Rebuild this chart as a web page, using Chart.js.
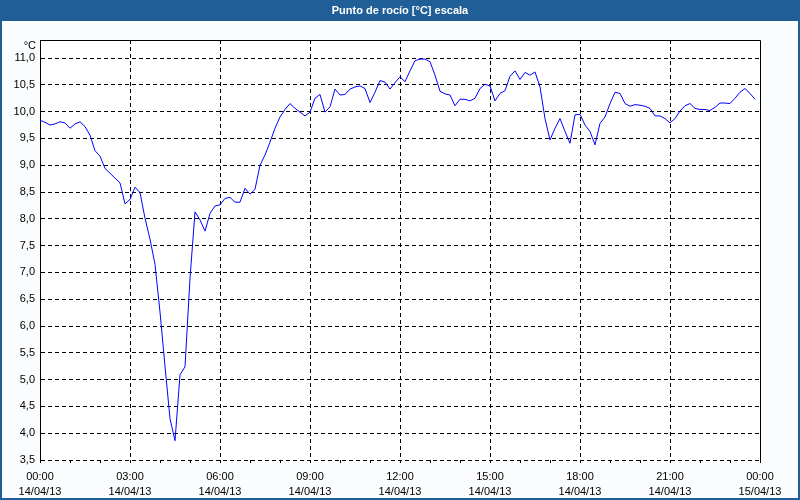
<!DOCTYPE html>
<html>
<head>
<meta charset="utf-8">
<script src="https://cdn.jsdelivr.net/npm/chart.js@4/dist/chart.umd.min.js"></script>
<style>
html,body{margin:0;padding:0;background:#fafcfe;}
canvas{display:block;}
</style>
</head>
<body>
<canvas id="c" width="800" height="500"></canvas>
<script>
// Title
const chartTitle = 'Punto de rocío [°C] escala';
const unitLabel = '°C';

// Categories: 10-minute samples, 14/04/13 00:00 to 15/04/13 00:00
const times = [
'00:00','00:10','00:20','00:30','00:40','00:50','01:00','01:10','01:20','01:30','01:40','01:50',
'02:00','02:10','02:20','02:30','02:40','02:50','03:00','03:10','03:20','03:30','03:40','03:50',
'04:00','04:10','04:20','04:30','04:40','04:50','05:00','05:10','05:20','05:30','05:40','05:50',
'06:00','06:10','06:20','06:30','06:40','06:50','07:00','07:10','07:20','07:30','07:40','07:50',
'08:00','08:10','08:20','08:30','08:40','08:50','09:00','09:10','09:20','09:30','09:40','09:50',
'10:00','10:10','10:20','10:30','10:40','10:50','11:00','11:10','11:20','11:30','11:40','11:50',
'12:00','12:10','12:20','12:30','12:40','12:50','13:00','13:10','13:20','13:30','13:40','13:50',
'14:00','14:10','14:20','14:30','14:40','14:50','15:00','15:10','15:20','15:30','15:40','15:50',
'16:00','16:10','16:20','16:30','16:40','16:50','17:00','17:10','17:20','17:30','17:40','17:50',
'18:00','18:10','18:20','18:30','18:40','18:50','19:00','19:10','19:20','19:30','19:40','19:50',
'20:00','20:10','20:20','20:30','20:40','20:50','21:00','21:10','21:20','21:30','21:40','21:50',
'22:00','22:10','22:20','22:30','22:40','22:50','23:00','23:10','23:20','23:30','23:40','23:50',
'00:00'
];

// Dew point values [°C]
const dewPoint = [
9.84,9.80,9.75,9.77,9.81,9.79,9.69,9.77,9.81,9.72,9.56,9.27,
9.17,8.94,8.85,8.76,8.67,8.28,8.36,8.59,8.49,8.01,7.62,7.15,
6.26,5.25,4.27,3.86,5.09,5.24,6.89,8.13,7.98,7.77,8.10,8.24,
8.26,8.38,8.40,8.31,8.31,8.57,8.46,8.55,9.00,9.19,9.43,9.69,
9.90,10.04,10.15,10.06,9.99,9.92,9.99,10.25,10.32,9.99,10.09,10.42,
10.31,10.32,10.42,10.46,10.48,10.43,10.17,10.36,10.58,10.55,10.42,10.54,
10.65,10.56,10.76,10.95,10.98,10.98,10.93,10.68,10.38,10.33,10.31,10.11,
10.23,10.23,10.20,10.25,10.43,10.51,10.48,10.20,10.34,10.39,10.66,10.76,
10.60,10.73,10.68,10.74,10.46,9.87,9.47,9.69,9.87,9.63,9.41,9.94,
9.95,9.75,9.63,9.38,9.78,9.90,10.15,10.36,10.34,10.15,10.10,10.13,
10.12,10.10,10.06,9.92,9.92,9.87,9.79,9.87,10.01,10.11,10.15,10.06,
10.04,10.04,10.02,10.08,10.16,10.16,10.15,10.25,10.36,10.43,10.34,10.23
];

// Tick labels on the time axis (every 3 hours)
const tickTimes = ['00:00','03:00','06:00','09:00','12:00','15:00','18:00','21:00','00:00'];
const tickDates = ['14/04/13','14/04/13','14/04/13','14/04/13','14/04/13','14/04/13','14/04/13','14/04/13','15/04/13'];

const yMin = 3.5, yMax = 11.336, yStep = 0.5;

const FONT = 'Liberation Sans, Arial, sans-serif';

const framePlugin = {
  id: 'frame',
  beforeDraw(chart) {
    const ctx = chart.ctx;
    const W = chart.width, H = chart.height;
    ctx.save();
    ctx.fillStyle = '#fafcfe';
    ctx.fillRect(0, 0, W, H);
    ctx.fillStyle = '#1f5e96';
    ctx.fillRect(0, 0, W, 21);
    ctx.fillRect(0, 0, 2, H);
    ctx.fillRect(W - 2, 0, 2, H);
    ctx.fillRect(0, H - 2, W, 2);
    ctx.fillStyle = '#ffffff';
    ctx.font = 'bold 11px ' + FONT;
    ctx.textAlign = 'center';
    ctx.textBaseline = 'middle';
    ctx.fillText(chartTitle, W / 2, 10.5);
    ctx.fillStyle = '#ffffff';
    const a = chart.chartArea;
    ctx.fillRect(a.left, a.top, a.right - a.left, a.bottom - a.top);
    ctx.restore();
  },
  afterDraw(chart) {
    const ctx = chart.ctx;
    const a = chart.chartArea;
    ctx.save();
    ctx.strokeStyle = '#000';
    ctx.lineWidth = 1;
    ctx.beginPath();
    ctx.moveTo(Math.round(a.left) + 0.5, Math.round(a.top) + 0.5);
    ctx.lineTo(Math.round(a.right) + 0.5, Math.round(a.top) + 0.5);
    ctx.lineTo(Math.round(a.right) + 0.5, Math.round(a.bottom) + 0.5);
    ctx.stroke();
    ctx.fillStyle = '#000';
    ctx.font = '11px ' + FONT;
    ctx.textAlign = 'right';
    ctx.textBaseline = 'middle';
    ctx.fillText(unitLabel, 36, 46);
    ctx.restore();
  }
};

new Chart(document.getElementById('c'), {
  type: 'line',
  data: {
    labels: times,
    datasets: [{
      data: dewPoint,
      borderColor: '#0000ff',
      borderWidth: 1,
      pointRadius: 0,
      tension: 0,
      fill: false
    }]
  },
  options: {
    responsive: false,
    animation: false,
    devicePixelRatio: 1,
    layout: { padding: { top: 40, right: 40, left: 0, bottom: 0 } },
    plugins: { legend: { display: false }, title: { display: false }, tooltip: { enabled: false } },
    scales: {
      x: {
        type: 'category',
        offset: false,
        afterFit(s) { s.height = 40; },
        border: { display: false, dash: [4, 3] },
        grid: {
          offset: false,
          drawOnChartArea: true,
          color: (c) => (c.index % 18 === 0 && c.index !== 0 && c.index !== 144) ? '#000' : 'rgba(0,0,0,0)',
          tickColor: (c) => (c.index % 6 === 0) ? '#000' : 'rgba(0,0,0,0)',
          tickLength: 3,
          tickBorderDash: [],
          lineWidth: 1
        },
        ticks: {
          autoSkip: false,
          maxRotation: 0,
          minRotation: 0,
          padding: 6,
          color: '#000',
          font: { family: FONT, size: 11, lineHeight: '15px' },
          callback: (v, i) => (i % 18 === 0) ? [tickTimes[i / 18], tickDates[i / 18]] : ''
        }
      },
      y: {
        min: yMin,
        max: yMax,
        afterFit(s) { s.width = 40; },
        border: { display: true, color: '#000', width: 1, dash: [4, 3] },
        grid: {
          color: '#000',
          lineWidth: 1,
          drawTicks: false
        },
        ticks: {
          stepSize: yStep,
          includeBounds: false,
          padding: 5,
          color: '#000',
          font: { family: FONT, size: 11 },
          callback: (v) => v.toFixed(1).replace('.', ',')
        }
      }
    }
  },
  plugins: [framePlugin]
});
</script>
</body>
</html>
